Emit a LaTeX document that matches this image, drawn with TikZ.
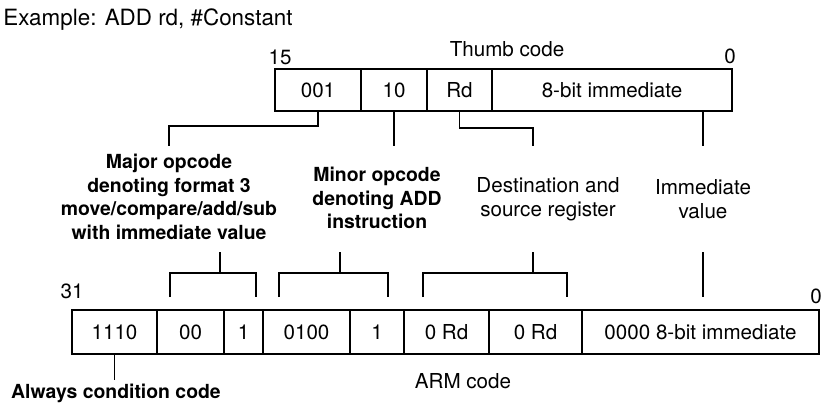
\documentclass[tikz,border=0pt]{standalone}
\usepackage{fontspec}
\setmainfont{TeX Gyre Heros}
\usetikzlibrary{positioning}
\tikzset{
  cell/.style={draw, rectangle, inner sep=0pt, outer sep=0pt, font=\fontsize{10.3}{12}\selectfont},
  note/.style={align=center, inner sep=2pt, font=\fontsize{10.3}{11.8}\selectfont},
  bnote/.style={note, font=\fontsize{9.7}{11.8}\selectfont\bfseries},
}

\begin{document}
\begin{tikzpicture}[x=0.5pt, y=-0.5pt, line width=0.6pt]
    \useasboundingbox (0,0) rectangle (823,408);
    \node[note, font=\fontsize{11.2}{13}\selectfont] (title) at (148,20) {Example: ADD rd, \#Constant};
    % Thumb code row
    \foreach \n/\a/\b/\txt in {t001/275/361/001, t10/361/427/10, tRd/427/492/Rd, tImm/492/732/8-bit immediate}{
      \pgfmathsetmacro\w{(\b-\a)/2}
      \node[cell, minimum width=\w pt, minimum height=21pt] (\n) at ({(\a+\b)/2},90) {\txt};
    }
    \node[note] (t15) at (280,57) {15};
    \node[note] (thumb) at (507,49) {Thumb code};
    \node[note] (t0) at (730,56) {0};
    % ARM code row
    \foreach \n/\a/\b/\txt in {a1110/72/157/1110, a00/157/224/00, aOne/224/263/1, a0100/263/350/0100,
        aOneB/350/404/1, aRdA/404/489/0 Rd, aRdB/489/582/0 Rd, aImm/582/819/0000 8-bit immediate}{
      \pgfmathsetmacro\w{(\b-\a)/2}
      \node[cell, minimum width=\w pt, minimum height=22pt] (\n) at ({(\a+\b)/2},332) {\txt};
    }
    \node[note] (a31) at (72,291) {31};
    \node[note] (a0) at (816,296) {0};
    \node[note] (arm) at (463,381) {ARM code};
    % field descriptions
    \node[bnote] (major) at (169,197) {Major opcode\\denoting format 3\\move/compare/add/sub\\with immediate value};
    \node[bnote] (minor) at (377,198) {Minor opcode\\denoting ADD\\instruction};
    \node[note] (dest) at (548,199) {Destination and\\source register};
    \node[note] (imm) at (703,199) {Immediate\\value};
    \node[bnote] (always) at (116,393) {Always condition code};
    % stem ends
    \coordinate (upper) at (0,146);
    \coordinate (lower) at (0,252);
    \coordinate (bMaj) at (220,273);
    \coordinate (bMin) at (340,273);
    \coordinate (bDest) at (533,273);
    \coordinate (bImm) at (703,297);
    % thumb fields to descriptions
    \draw (t001.south) -- ++(0,15) -| (major.north |- upper);
    \draw (t10.south) -- (t10.south |- upper);
    \draw (tRd.south) -- ++(0,17) -| (bDest |- upper);
    \draw (tImm.south -| bImm) -- (bImm |- upper);
    % descriptions to ARM fields
    \draw (bMaj |- lower) -- (bMaj);
    \draw (bMin |- lower) -- (bMin);
    \draw (bDest |- lower) -- (bDest);
    \draw (bImm |- lower) -- (bImm);
    \foreach \a/\b in {170/256, 279/388, 423/567}
      \draw (\a,297) |- (\b,273) -- (\b,297);
    \draw (a1110.south) -- ++(0,26);
\end{tikzpicture}
\end{document}
